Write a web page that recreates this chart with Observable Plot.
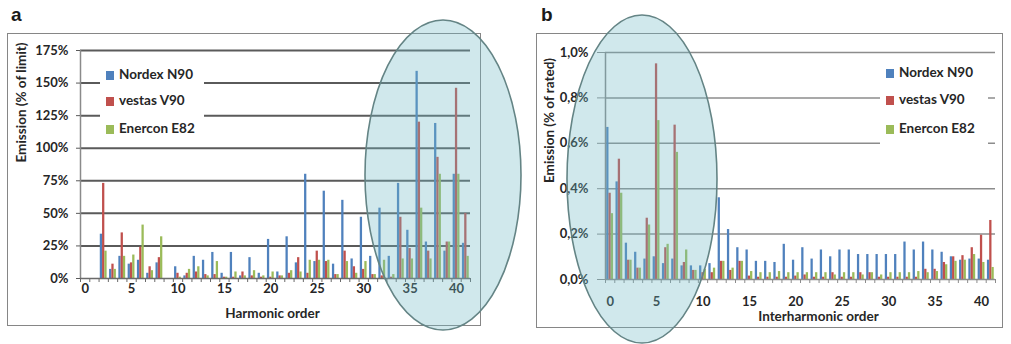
<!DOCTYPE html>
<html>
<head>
<meta charset="utf-8">
<script src="https://cdn.jsdelivr.net/npm/d3@7"></script>
<script src="https://cdn.jsdelivr.net/npm/@observablehq/plot@0.6"></script>
<style>
  html, body { margin: 0; padding: 0; background: #fff; }
  #root { position: relative; width: 1011px; height: 344px; overflow: hidden; background: #fff; font-family: Lato, "Open Sans", sans-serif; }
  .box { position: absolute; border: 1.6px solid #868686; box-sizing: border-box; }
  .plot { position: absolute; top: 0; }
  .panel-label { position: absolute; font-family: "Liberation Sans", Arial, sans-serif; font-weight: bold; font-size: 19px; color: #1a1a1a; }
  .legend { position: absolute; background: #fff; font-family: Lato, sans-serif; font-weight: bold; font-size: 13.5px; color: #262626; }
  .legend .item { position: absolute; left: 0; white-space: nowrap; height: 16px; line-height: 16px; }
  .legend .sw { display: inline-block; width: 8px; height: 9px; margin-right: 5px; vertical-align: -1px; }
</style>
</head>
<body>
<div id="root"></div>
<script>
// ---------- data ----------
const seriesNames = ["Nordex N90", "vestas V90", "Enercon E82"];
const seriesColors = ["#4F81BD", "#C0504D", "#9BBB59"];

const harmonicOrder = [0,1,2,3,4,5,6,7,8,9,10,11,12,13,14,15,16,17,18,19,20,21,22,23,24,25,26,27,28,29,30,31,32,33,34,35,36,37,38,39,40,41];
const nordexHarmonic  = [0,0,34,7,17,11,14,4,12,0,9,2,17,14,20,4,20,2,16,4,30,5,32,12,80,13,67,11,60,15,47,17,54,17,73,37,159,28,119,21,80,27];
const vestasHarmonic  = [0,0,73,11,35,12,24,9,16,0,4,4,5,3,3,1,1,5,2,1,1,2,4,16,4,21,13,3,21,9,7,3,2,1,47,23,120,21,93,28,146,50];
const enerconHarmonic = [0,0,21,7,17,18,41,6,32,0,1,7,9,2,13,1,5,2,6,2,5,2,6,5,14,14,14,3,13,4,13,3,14,3,15,15,54,15,80,28,80,17];

const interharmonicOrder = [0,1,2,3,4,5,6,7,8,9,10,11,12,13,14,15,16,17,18,19,20,21,22,23,24,25,26,27,28,29,30,31,32,33,34,35,36,37,38,39,40,41];
const nordexInter  = [0.67,0.43,0.16,0.12,0.09,0.10,0.07,0.09,0.06,0.06,0.06,0.07,0.36,0.22,0.14,0.13,0.08,0.08,0.075,0.155,0.085,0.14,0.09,0.13,0.10,0.13,0.13,0.11,0.11,0.11,0.11,0.11,0.165,0.13,0.165,0.13,0.12,0.10,0.085,0.09,0.09,0.085];
const vestasInter  = [0.38,0.53,0.085,0.05,0.27,0.95,0.14,0.68,0.075,0.04,0.03,0.03,0.08,0.04,0.08,0.015,0.01,0.01,0.01,0.01,0.015,0.02,0.01,0.01,0.03,0.01,0.01,0.03,0.03,0.01,0.01,0.01,0.01,0.01,0.045,0.045,0.075,0.10,0.105,0.14,0.195,0.26];
const enerconInter = [0.29,0.38,0.085,0.05,0.24,0.70,0.155,0.56,0.13,0.04,0.045,0.05,0.08,0.05,0.08,0.035,0.03,0.03,0.035,0.03,0.03,0.03,0.03,0.03,0.02,0.03,0.03,0.02,0.03,0.02,0.03,0.03,0.03,0.035,0.03,0.035,0.065,0.08,0.085,0.11,0.075,0.053];

const xTickLabels = [0,5,10,15,20,25,30,35,40];
const yTicksHarmonic = [0,25,50,75,100,125,150,175];
const yTicksInter = [0,0.2,0.4,0.6,0.8,1.0];

// ---------- helpers ----------
function toRows(orders, arrays) {
  return arrays.flatMap((arr, k) => orders.map((o, i) => ({order: o, series: seriesNames[k], k, value: arr[i]})));
}

function panel(cfg) {
  const rows = toRows(cfg.orders, cfg.arrays);
  const boundaries = d3.range(-0.5, cfg.orders.length, 1);
  return Plot.plot({
    width: cfg.width, height: 344,
    marginLeft: cfg.ml, marginRight: cfg.mr, marginTop: cfg.mt, marginBottom: cfg.mb,
    style: {fontFamily: "Lato, sans-serif", fontWeight: "bold", fontSize: "13px", color: "#262626", background: "transparent", overflow: "visible"},
    x: {domain: [-0.5, cfg.orders.length - 0.5]},
    y: {domain: [0, cfg.yTicks[cfg.yTicks.length - 1]]},
    color: {domain: seriesNames, range: seriesColors},
    marks: [
      Plot.gridY(cfg.yTicks.filter(v => v > 0), {stroke: cfg.gridStroke, strokeOpacity: 1, strokeWidth: cfg.gridWidth}),
      Plot.rectY(rows, {
        x1: d => d.order - 0.37 + d.k * 0.245,
        x2: d => d.order - 0.37 + d.k * 0.245 + 0.245,
        y: "value", fill: "series"
      }),
      Plot.ruleX([-0.5], {stroke: "#8a8a8a", strokeWidth: 1.5}),
      Plot.ruleY([0], {stroke: cfg.axisStroke, strokeWidth: 1.5}),
      Plot.axisX(boundaries, {tickSize: 4, tickFormat: () => "", label: null, stroke: cfg.axisStroke}),
      Plot.axisX(xTickLabels, {tickSize: 0, tickPadding: cfg.xPad, label: null, fontSize: 13}),
      Plot.axisY(cfg.yTicks, {tickSize: cfg.yTickSize, tickPadding: cfg.yPad, tickFormat: cfg.yFormat, label: null, stroke: cfg.gridStroke, fontSize: 13}),
      Plot.text([cfg.xTitle], {frameAnchor: "bottom", dx: cfg.xtdx, dy: cfg.xtdy, lineAnchor: "middle", fontSize: 13.5, fontWeight: "bold"}),
      Plot.text([cfg.yTitle], {frameAnchor: "left", dx: cfg.ytdx, dy: cfg.ytdy, rotate: -90, lineAnchor: "middle", fontSize: 13.5, fontWeight: "bold"})
    ]
  });
}

const root = document.getElementById("root");

function addBox(l, t, r, b) {
  const d = document.createElement("div");
  d.className = "box";
  Object.assign(d.style, {left: l + "px", top: t + "px", width: (r - l) + "px", height: (b - t) + "px"});
  root.appendChild(d);
}
addBox(7, 33, 481, 326);
addBox(536, 33, 1003, 328);

// ---------- panel a ----------
const plotA = panel({
  orders: harmonicOrder, arrays: [nordexHarmonic, vestasHarmonic, enerconHarmonic],
  width: 505, ml: 80, mr: 35, mt: 50, mb: 66,
  yTicks: yTicksHarmonic, yFormat: d => d + "%",
  gridStroke: "#5a5a5a", gridWidth: 2, axisStroke: "#6a6a6a",
  xPad: 5, yTickSize: 4, yPad: 8,
  xTitle: "Harmonic order", xtdx: -3, xtdy: 35,
  yTitle: "Emission (% of limit)", ytdx: -59, ytdy: -2
});
plotA.classList.add("plot");
plotA.style.left = "0px";
root.appendChild(plotA);

// ---------- panel b ----------
const plotB = panel({
  orders: interharmonicOrder, arrays: [nordexInter, vestasInter, enerconInter],
  width: 506, ml: 100, mr: 16, mt: 52, mb: 65,
  yTicks: yTicksInter, yFormat: d => d.toFixed(1).replace(".", ",") + "%",
  gridStroke: "#8c8c8c", gridWidth: 1.5, axisStroke: "#8c8c8c",
  xPad: 17, yTickSize: 8, yPad: 9,
  xTitle: "Interharmonic order", xtdx: 18, xtdy: 37,
  yTitle: "Emission (% of rated)", ytdx: -56, ytdy: 17
});
plotB.classList.add("plot");
plotB.style.left = "505px";
root.appendChild(plotB);

// ---------- legends ----------
function addLegend(l, t, w, h, rowTops) {
  const lg = document.createElement("div");
  lg.className = "legend";
  Object.assign(lg.style, {left: l + "px", top: t + "px", width: w + "px", height: h + "px"});
  seriesNames.forEach((name, i) => {
    const it = document.createElement("div");
    it.className = "item";
    it.style.top = rowTops[i] + "px";
    it.style.left = "6px";
    it.innerHTML = `<span class="sw" style="background:${seriesColors[i]}"></span>${name}`;
    lg.appendChild(it);
  });
  root.appendChild(lg);
}
addLegend(100, 60, 104, 80, [6, 32, 60]);
addLegend(880, 60, 108, 85, [4, 31, 60]);

// ---------- panel letters ----------
[["a", 11, 4], ["b", 541, 4]].forEach(([t, x, y]) => {
  const d = document.createElement("div");
  d.className = "panel-label";
  d.textContent = t;
  d.style.left = x + "px"; d.style.top = y + "px";
  root.appendChild(d);
});

// ---------- highlight ellipses ----------
const ov = d3.select(root).append("svg")
  .attr("width", 1011).attr("height", 344)
  .style("position", "absolute").style("left", 0).style("top", 0).style("pointer-events", "none");
[[443, 175, 78, 155], [642, 179, 75, 164]].forEach(([cx, cy, rx, ry]) => {
  ov.append("ellipse").attr("cx", cx).attr("cy", cy).attr("rx", rx).attr("ry", ry)
    .attr("fill", "rgb(112,186,198)").attr("fill-opacity", 0.33)
    .attr("stroke", "#648485").attr("stroke-width", 1.6);
});
</script>
</body>
</html>
